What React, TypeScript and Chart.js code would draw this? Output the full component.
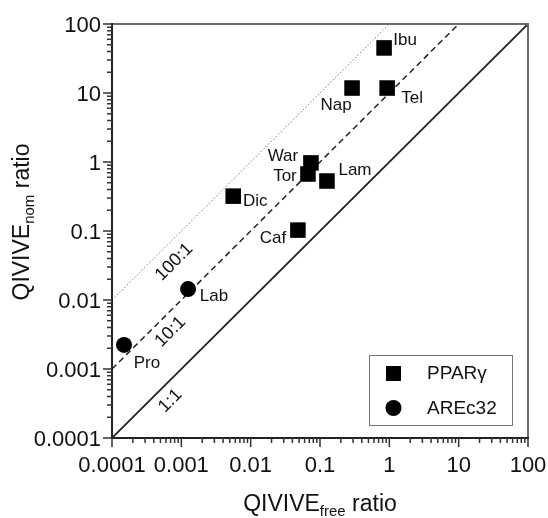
import { useEffect, useRef } from "react";
import { Chart, registerables } from "chart.js";

Chart.register(...registerables);

// PPARγ assay compounds
const pparNames = ["Ibu", "Tel", "Nap", "War", "Tor", "Lam", "Dic", "Caf"];
const pparFree = [0.84, 0.93, 0.29, 0.074, 0.067, 0.126, 0.0056, 0.048];
const pparNom = [45, 11.8, 11.8, 0.97, 0.67, 0.53, 0.32, 0.103];

// AREc32 assay compounds
const areNames = ["Lab", "Pro"];
const areFree = [0.00125, 0.000149];
const areNom = [0.0144, 0.00223];

// axis decades and ratio reference lines
const decadeTicks = [0.0001, 0.001, 0.01, 0.1, 1, 10, 100];
const decadeLabels = ["0.0001", "0.001", "0.01", "0.1", "1", "10", "100"];
const refRatios = [1, 10, 100];
const refLabels = ["1:1", "10:1", "100:1"];
const refLabelAt = [0.00049, 0.00049, 0.00053];

const AXIS_MIN = 0.0001;
const AXIS_MAX = 100;

// label placement (pixel offset from the marker centre)
const labelOffsets: Record<string, [number, number]> = {
  Ibu: [21, -8],
  Tel: [25, 10],
  Nap: [-16, 17],
  War: [-28, -7],
  Tor: [-23, 2],
  Lam: [28, -11],
  Dic: [22, 5],
  Caf: [-25, 8],
  Lab: [26, 7],
  Pro: [23, 18],
};

const FONT = '"Liberation Sans", Arial, Helvetica, sans-serif';
const INK = "#111";

function subscriptTitle(
  ctx: CanvasRenderingContext2D,
  main: string,
  sub: string,
  tail: string,
  size: number,
  subSize: number
) {
  ctx.font = `${size}px ${FONT}`;
  const w1 = ctx.measureText(main).width;
  const w3 = ctx.measureText(tail).width;
  ctx.font = `${subSize}px ${FONT}`;
  const w2 = ctx.measureText(sub).width;
  const total = w1 + w2 + w3;
  let x = -total / 2;
  ctx.textAlign = "left";
  ctx.textBaseline = "alphabetic";
  ctx.font = `${size}px ${FONT}`;
  ctx.fillText(main, x, 0);
  x += w1;
  ctx.font = `${subSize}px ${FONT}`;
  ctx.fillText(sub, x, 5);
  x += w2;
  ctx.font = `${size}px ${FONT}`;
  ctx.fillText(tail, x, 0);
}

const decorations = {
  id: "decorations",
  afterDatasetsDraw(chart: any) {
    const ctx: CanvasRenderingContext2D = chart.ctx;
    const xs = chart.scales.x;
    const ys = chart.scales.y;
    const { left, right, top, bottom } = chart.chartArea;

    ctx.save();

    // frame: grey top/right, black axes
    ctx.lineCap = "butt";
    ctx.strokeStyle = "#6b6b6b";
    ctx.lineWidth = 2;
    ctx.beginPath();
    ctx.moveTo(left, top);
    ctx.lineTo(right, top);
    ctx.lineTo(right, bottom);
    ctx.stroke();
    ctx.strokeStyle = "#222";
    ctx.beginPath();
    ctx.moveTo(left, top - 1);
    ctx.lineTo(left, bottom);
    ctx.lineTo(right + 1, bottom);
    ctx.stroke();

    // tick marks
    ctx.lineWidth = 1.5;
    ctx.strokeStyle = "#333";
    const majorLen = 9;
    const minorLen = 5;
    decadeTicks.forEach((d, i) => {
      const px = xs.getPixelForValue(d);
      const py = ys.getPixelForValue(d);
      ctx.beginPath();
      ctx.moveTo(px, bottom);
      ctx.lineTo(px, bottom + majorLen);
      ctx.moveTo(left, py);
      ctx.lineTo(left - majorLen, py);
      ctx.stroke();
      if (i < decadeTicks.length - 1) {
        for (let m = 2; m <= 9; m++) {
          const v = d * m;
          const mx = xs.getPixelForValue(v);
          const my = ys.getPixelForValue(v);
          ctx.beginPath();
          ctx.moveTo(mx, bottom);
          ctx.lineTo(mx, bottom + minorLen);
          ctx.moveTo(left, my);
          ctx.lineTo(left - minorLen, my);
          ctx.stroke();
        }
      }
    });

    // tick labels
    ctx.fillStyle = INK;
    ctx.font = `22px ${FONT}`;
    decadeTicks.forEach((d, i) => {
      const px = xs.getPixelForValue(d);
      const py = ys.getPixelForValue(d);
      ctx.textAlign = "center";
      ctx.textBaseline = "alphabetic";
      ctx.fillText(decadeLabels[i], px, bottom + 34);
      ctx.textAlign = "right";
      ctx.fillText(decadeLabels[i], left - 11, py + 8);
    });

    // axis titles
    ctx.save();
    ctx.translate((left + right) / 2, 511);
    subscriptTitle(ctx, "QIVIVE", "free", " ratio", 23, 15);
    ctx.restore();
    ctx.save();
    ctx.translate(29, 222);
    ctx.rotate(-Math.PI / 2);
    subscriptTitle(ctx, "QIVIVE", "nom", " ratio", 23, 15);
    ctx.restore();

    // compound labels
    ctx.font = `17px ${FONT}`;
    ctx.textAlign = "center";
    ctx.textBaseline = "middle";
    const labelSet = (datasetIndex: number, names: string[]) => {
      const meta = chart.getDatasetMeta(datasetIndex);
      meta.data.forEach((pt: any, i: number) => {
        const off = labelOffsets[names[i]] || [20, 0];
        ctx.fillText(names[i], pt.x + off[0], pt.y + off[1]);
      });
    };
    labelSet(0, pparNames);
    labelSet(1, areNames);

    // ratio line labels, rotated along the lines
    ctx.font = `18px ${FONT}`;
    refRatios.forEach((r, i) => {
      const xv = refLabelAt[i];
      const ax = xs.getPixelForValue(xv);
      const ay = ys.getPixelForValue(xv * r);
      const d = i === 2 ? 12 : 10.5;
      ctx.save();
      ctx.translate(ax + d, ay + d);
      ctx.rotate(-Math.PI / 4);
      ctx.fillText(refLabels[i], 0, 0);
      ctx.restore();
    });

    // legend box
    const lx0 = right - 159;
    const ly0 = bottom - 83;
    ctx.strokeStyle = "#777";
    ctx.lineWidth = 1;
    ctx.strokeRect(lx0 + 0.5, ly0 + 0.5, 143, 70);
    ctx.fillStyle = "#000";
    ctx.fillRect(lx0 + 17, ly0 + 11, 15, 15);
    ctx.beginPath();
    ctx.arc(lx0 + 24.5, ly0 + 53, 8, 0, Math.PI * 2);
    ctx.fill();
    ctx.fillStyle = INK;
    ctx.font = `19px ${FONT}`;
    ctx.textAlign = "left";
    ctx.textBaseline = "middle";
    ctx.fillText("PPARγ", lx0 + 58, ly0 + 19);
    ctx.fillText("AREc32", lx0 + 58, ly0 + 54);

    ctx.restore();
  },
};

export default function App() {
  const canvasRef = useRef<HTMLCanvasElement | null>(null);

  useEffect(() => {
    const canvas = canvasRef.current;
    if (!canvas) return;

    const refLineStyles = [
      { borderColor: "#222", borderWidth: 1.8, borderDash: [] as number[] },
      { borderColor: "#222", borderWidth: 1.5, borderDash: [6, 4] },
      { borderColor: "#777", borderWidth: 1, borderDash: [1.5, 2] },
    ];

    const refDatasets = refRatios.map((r, i) => ({
      label: refLabels[i],
      data: [
        { x: AXIS_MIN, y: AXIS_MIN * r },
        { x: AXIS_MAX / r, y: AXIS_MAX },
      ],
      showLine: true,
      pointRadius: 0,
      fill: false,
      order: 5,
      ...refLineStyles[i],
    }));

    const chart = new Chart(canvas, {
      type: "scatter",
      data: {
        datasets: [
          {
            label: "PPARγ",
            data: pparFree.map((x, i) => ({ x, y: pparNom[i] })),
            pointStyle: "rect",
            pointRadius: 11,
            backgroundColor: "#000",
            borderWidth: 0,
            order: 1,
          },
          {
            label: "AREc32",
            data: areFree.map((x, i) => ({ x, y: areNom[i] })),
            pointStyle: "circle",
            pointRadius: 8,
            backgroundColor: "#000",
            borderWidth: 0,
            order: 1,
          },
          ...refDatasets,
        ],
      },
      options: {
        responsive: true,
        maintainAspectRatio: false,
        animation: false,
        layout: { padding: { left: 112, right: 20, top: 24, bottom: 80 } },
        plugins: {
          legend: { display: false },
          tooltip: { enabled: false },
        },
        scales: {
          x: { type: "logarithmic", min: AXIS_MIN, max: AXIS_MAX, display: false },
          y: { type: "logarithmic", min: AXIS_MIN, max: AXIS_MAX, display: false },
        },
      },
      plugins: [decorations],
    });

    return () => chart.destroy();
  }, []);

  return (
    <div
      style={{
        position: "absolute",
        left: 0,
        top: 0,
        width: 548,
        height: 518,
        background: "#fff",
      }}
    >
      <canvas ref={canvasRef} />
    </div>
  );
}
